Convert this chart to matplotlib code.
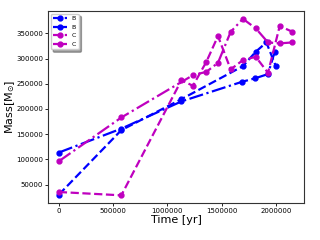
import numpy as np
import matplotlib
matplotlib.use("Agg")
import matplotlib.pyplot as plt

# blue runs
b1_time = [0, 576000, 1130000, 1697000, 1815000, 1913000, 2000000]
b1_mass = [30100, 158000, 219500, 285000, 313500, 332000, 285000]

b2_time = [0, 576000, 1130000, 1690000, 1805000, 1928000, 1990000]
b2_mass = [113600, 161000, 215000, 254000, 260600, 269200, 313500]

# magenta runs
c1_time = [0, 576000, 1130000, 1236000, 1360000, 1467000, 1584000, 1697000,
           1815000, 1928000, 2036000, 2153000]
c1_mass = [35300, 28700, 257000, 246000, 293600, 344700, 278500, 297000,
           303500, 271800, 364500, 353200]

c2_time = [0, 576000, 1236000, 1360000, 1467000, 1584000, 1697000,
           1815000, 1928000, 2036000, 2153000]
c2_mass = [96300, 183100, 267000, 273700, 291600, 353000, 378800,
           360000, 332000, 330200, 332000]

fig = plt.figure(figsize=(3.2, 2.4), dpi=100)
ax = fig.add_axes([0.15, 0.154, 0.8, 0.8])

ms = 3.5
lw = 1.6
ax.plot(b1_time, b1_mass, '--', color='blue', marker='o', ms=ms, lw=lw, label='B')
ax.plot(b2_time, b2_mass, '-.', color='blue', marker='o', ms=ms, lw=lw, label='B')
ax.plot(c1_time, c1_mass, '--', color='m', marker='o', ms=ms, lw=lw, label='C')
ax.plot(c2_time, c2_mass, '-.', color='m', marker='o', ms=ms, lw=lw, label='C')

ax.set_xlim(-100000, 2260000)
ax.set_ylim(13400, 394300)
ax.set_xticks([0, 500000, 1000000, 1500000, 2000000])
ax.set_yticks(np.arange(50000, 400000, 50000))
ax.ticklabel_format(style='plain')
ax.tick_params(labelsize=5, length=2, width=0.6, pad=1.5)
for s in ax.spines.values():
    s.set_color('#333333')
    s.set_linewidth(0.8)

ax.set_xlabel('Time [yr]', fontsize=8, labelpad=1)
ax.set_ylabel(r'Mass[M$_{\odot}$]', fontsize=8)
ax.yaxis.set_label_coords(-0.123, 0.5)

ax.legend(loc='upper left', fontsize=4.5, shadow=True, fancybox=True,
          numpoints=1, handlelength=2.2, borderaxespad=0.4)

fig.savefig('out.png', dpi=100)
